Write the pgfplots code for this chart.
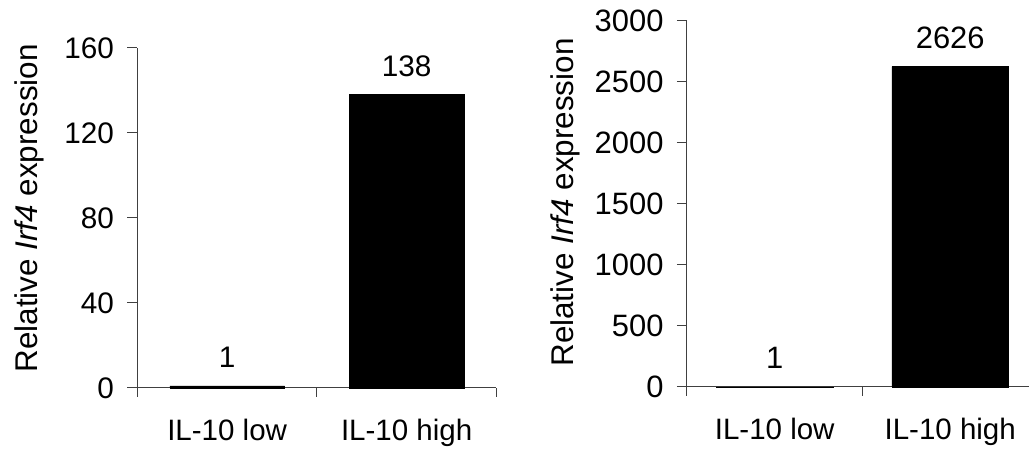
\documentclass[border=0pt]{standalone}
\usepackage{pgfplots}
\pgfplotsset{compat=1.18}
\usepackage{fontspec}
\setmainfont{Liberation Sans}
\begin{document}
\pgfplotsset{
  myax/.style={
    scale only axis,
    anchor=south west,
    axis x line*=bottom,
    axis y line*=left,
    axis line style={black!75, line width=1pt},
    xmin=-0.5, xmax=1.5,
    ymin=0,
    xtick={0,1},
    xticklabels={IL-10 low, IL-10 high},
    major x tick style={draw=none},
    minor xtick={-0.5,0.5,1.5},
    minor tick length=9pt,
    major tick length=10pt,
    tick align=outside,
    tick style={black!75, line width=1pt},
    xticklabel style={font=\fontsize{29.6}{34}\selectfont, yshift=-18pt},
    yticklabel style={xshift=-10pt},
    label style={font=\fontsize{31.5}{36}\selectfont},
    /pgf/number format/assume math mode=true,
    /pgf/number format/1000 sep={},
    ybar,
    nodes near coords,
    clip=false,
  }
}
\begin{tikzpicture}[x=1pt,y=1pt]
\useasboundingbox (0,0) rectangle (1029,458);
\begin{axis}[myax,
  at={(135pt,69pt)}, width=360pt, height=341pt,
  ymax=160, ytick={0,40,80,120,160},
  bar width=115pt,
  yticklabel style={font=\fontsize{29.8}{34}\selectfont},
  nodes near coords style={anchor=base, yshift=18pt, font=\fontsize{29.8}{34}\selectfont},
  ylabel={Relative \textit{Irf4} expression},
  ylabel style={at={(axis description cs:-0.278,0.528)}, anchor=base},
]
\addplot[fill=black, draw=black] coordinates {(0,1) (1,138)};
\end{axis}
\begin{scope}
\clip (520,0) rectangle (1029,458);
\begin{axis}[myax,
  at={(686pt,70pt)}, width=352pt, height=367pt,
  ymax=3000, ytick={0,500,1000,1500,2000,2500,3000},
  bar width=117pt,
  yticklabel style={font=\fontsize{31}{35}\selectfont},
  nodes near coords style={anchor=base, yshift=18pt, font=\fontsize{31}{35}\selectfont},
  ylabel={Relative \textit{Irf4} expression},
  ylabel style={at={(axis description cs:-0.324,0.504)}, anchor=base},
]
\addplot[fill=black, draw=black] coordinates {(0,1) (1,2626)};
\end{axis}
\end{scope}
\end{tikzpicture}
\end{document}
